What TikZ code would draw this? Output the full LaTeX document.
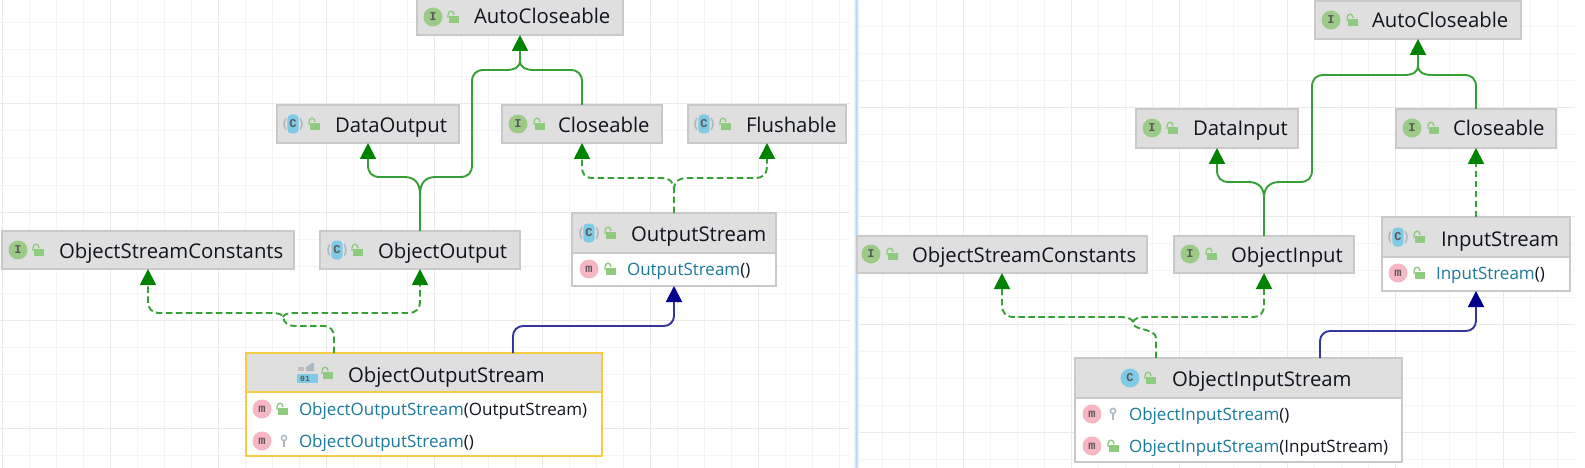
\documentclass[tikz,border=0pt]{standalone}
\usepackage{fontspec}
\setmainfont{Open Sans}
\newfontfamily\monof{Liberation Mono}
\usetikzlibrary{arrows.meta,calc}
\definecolor{gmaj}{HTML}{E9E9E9}
\definecolor{gmin}{HTML}{F4F4F4}
\definecolor{headc}{HTML}{DFDFDF}
\definecolor{edgec}{HTML}{C9C9C9}
\definecolor{selc}{HTML}{F7CB45}
\definecolor{greenl}{HTML}{35A035}
\definecolor{greena}{HTML}{008400}
\definecolor{bluel}{HTML}{3535A0}
\definecolor{bluea}{HTML}{00008B}
\definecolor{teal1}{HTML}{1B7A9A}
\definecolor{ink}{HTML}{10141C}
\definecolor{icoI}{HTML}{9CCB88}
\definecolor{icoC}{HTML}{7FCAE6}
\definecolor{icoM}{HTML}{F8B6C4}
\definecolor{lockc}{HTML}{8FCB7E}
\definecolor{keyc}{HTML}{AEB8C0}
\definecolor{stripc}{HTML}{B9D6F8}
\newcounter{autoid}
\newcommand{\autonm}{n\arabic{autoid}}
\tikzset{
  gline/.style={greenl,line width=1.9pt,-{Triangle[width=16pt,length=16pt,color=greena]}},
  gplain/.style={greenl,line width=1.9pt},
  dline/.style={greenl,line width=1.9pt,dash pattern=on 6.5pt off 3.5pt,-{Triangle[width=16pt,length=16pt,color=greena]}},
  bline/.style={bluel,line width=1.9pt,-{Triangle[width=16pt,length=16pt,color=bluea]}},
  txtn/.style={anchor=base west,inner sep=0pt,outer sep=0pt},
  ttl/.style={txtn,text=ink,font=\fontsize{20.3}{24}\selectfont},
  mem/.style={txtn,text=teal1,font=\fontsize{17}{21}\selectfont},
  badgelet/.style={inner sep=0pt,text=black!65,font=\monof\bfseries\fontsize{12}{12}\selectfont}
}
% name x1 y1 x2 y2 ysep colour
\newcommand{\clsbox}[7]{%
  \pgfmathsetmacro{\bw}{#4-#2}\pgfmathsetmacro{\bh}{#5-#3}%
  \pgfmathsetmacro{\bx}{(#4+#2)/2}\pgfmathsetmacro{\by}{(#5+#3)/2}%
  \fill[white] (#2,#3) rectangle (#4,#5);
  \fill[headc] (#2,#3) rectangle (#4,#6);
  \draw[#7,line width=1.5pt] (#2,#6) -- (#4,#6);
  \node[draw=#7,line width=1.5pt,minimum width=\bw pt,minimum height=\bh pt,inner sep=0pt,outer sep=0pt] (#1) at (\bx,\by) {};
}
\newcommand{\lockic}[2]{%
  \fill[lockc] (#1-4,#2-1) rectangle (#1+6,#2+6);
  \draw[lockc,line width=1.4pt] (#1-5,#2+1) -- (#1-5,#2-2) .. controls (#1-5,#2-7) and (#1+1,#2-7) .. (#1+1,#2-2);
}
\newcommand{\keyic}[2]{%
  \draw[keyc,line width=1.5pt] (#1,#2-3) circle[radius=2.6pt];
  \draw[keyc,line width=2pt] (#1,#2) -- (#1,#2+6);
}
\newcommand{\badge}[4]{%
  \fill[#3] (#1,#2) circle[radius=9.5pt];
  \stepcounter{autoid}\node[badgelet] (\autonm) at (#1,#2) {#4};
}
\newcommand{\badgeA}[2]{%
  \draw[keyc,line width=1.6pt] (#1,#2) circle[radius=9pt];
  \fill[headc] (#1-6.8,#2-10) rectangle (#1+6.8,#2+10);
  \fill[icoC,rounded corners=4pt] (#1-5.6,#2-9.5) rectangle (#1+5.6,#2+9.5);
  \stepcounter{autoid}\node[badgelet] (\autonm) at (#1,#2) {C};
}
\newcommand{\ttxt}[3]{\stepcounter{autoid}\node[ttl] (\autonm) at (#1,#2) {#3};}
\newcommand{\mtxt}[3]{\stepcounter{autoid}\node[mem] (\autonm) at (#1,#2) {#3};}
\begin{document}
\begin{tikzpicture}[x=1pt,y=-1pt]
\useasboundingbox (0,0) rectangle (1585,468);
\fill[white] (0,0) rectangle (1585,468);
% grids
\foreach \k in {0,...,31}{\pgfmathsetmacro{\xx}{2+27*\k}\pgfmathtruncatemacro{\mm}{mod(\k,4)}
  \ifnum\mm=0 \draw[gmaj,line width=1pt] (\xx,0) -- (\xx,468);\else \draw[gmin,line width=1pt] (\xx,0) -- (\xx,468);\fi}
\foreach \k in {1,...,17}{\pgfmathsetmacro{\yy}{-4+27*\k}\pgfmathtruncatemacro{\mm}{mod(\k,4)}
  \ifnum\mm=0 \draw[gmaj,line width=1pt] (0,\yy) -- (850,\yy);\else \draw[gmin,line width=1pt] (0,\yy) -- (850,\yy);\fi}
\foreach \k in {0,...,26}{\pgfmathsetmacro{\xx}{855+27*\k}\pgfmathtruncatemacro{\mm}{mod(\k,4)}
  \ifnum\mm=0 \draw[gmaj,line width=1pt] (\xx,0) -- (\xx,468);\else \draw[gmin,line width=1pt] (\xx,0) -- (\xx,468);\fi}
\foreach \k in {0,...,17}{\pgfmathsetmacro{\yy}{27*\k}\pgfmathtruncatemacro{\mm}{mod(\k,4)}
  \ifnum\mm=0 \draw[gmaj,line width=1pt] (857,\yy) -- (1575,\yy);\else \draw[gmin,line width=1pt] (857,\yy) -- (1575,\yy);\fi}
\fill[white] (850.5,0) rectangle (858,468);
\shade[left color=white,right color=stripc] (853,1) rectangle (856.5,468);
\shade[left color=stripc,right color=white] (856.5,1) rectangle (858.5,468);

% ---------- left boxes
\clsbox{acl}{417}{-2}{623}{35}{35}{edgec}
\clsbox{dout}{277}{105}{459}{143}{143}{edgec}
\clsbox{cll}{502}{105}{662}{143}{143}{edgec}
\clsbox{flu}{688}{105}{846}{143}{143}{edgec}
\clsbox{oscl}{2}{231}{294}{269}{269}{edgec}
\clsbox{oout}{320}{231}{520}{269}{269}{edgec}
\clsbox{ostr}{572}{213}{776}{286}{253}{edgec}
\clsbox{oos}{246}{353}{602}{456}{392}{selc}
% ---------- right boxes
\clsbox{acr}{1315}{1}{1521}{39}{39}{edgec}
\clsbox{din}{1136}{109}{1298}{148}{148}{edgec}
\clsbox{clr}{1396}{109}{1556}{148}{148}{edgec}
\clsbox{oscr}{857}{236}{1147}{273}{273}{edgec}
\clsbox{oin}{1174}{236}{1354}{273}{273}{edgec}
\clsbox{istr}{1382}{217}{1570}{291}{257}{edgec}
\clsbox{ois}{1075}{358}{1402}{462}{398}{edgec}

% ---------- source points on the two big boxes
\coordinate (sa) at (334,340);
\coordinate (sb) at (513,340);
\coordinate (sc) at (1156,340);
\coordinate (sd) at (1320,340);

% ---------- left connectors
\draw[gline] (oout.north) -- (420,195) .. controls (420,182) and (414,177) .. (404,177) -- (380,177) .. controls (372,177) and (368,173) .. (368,165) -- (dout.south);
\draw[gplain] (420,195) .. controls (420,182) and (426,177) .. (436,177) -- (460,177) .. controls (468,177) and (472,173) .. (472,165) -- (472,82) .. controls (472,74) and (476,70) .. (484,70) -- (506,70) .. controls (514,70) and (520,68) .. (520,60);
\draw[gline] (cll.north) -- (582,82) .. controls (582,74) and (578,70) .. (570,70) -- (534,70) .. controls (526,70) and (520,68) .. (520,60) -- (acl.south);
\draw[dline] (ostr.north) -- (674,190) .. controls (674,182) and (670,178) .. (660,178) -- (593,178) .. controls (585,178) and (582,174) .. (582,167) -- (cll.south);
\draw[dline] (674,190) .. controls (674,182) and (678,178) .. (688,178) -- (755,178) .. controls (763,178) and (767,174) .. (767,167) -- (flu.south);
\draw[dline] (oos.north -| sa) -- (334,338) .. controls (334,330) and (331,326) .. (322,326) -- (295,326) .. controls (288,326) and (284,323) .. (283,317) .. controls (282,314) and (278,313) .. (270,313) -- (160,313) .. controls (152,313) and (148,309) .. (148,301) -- (oscl.south);
\draw[dline] (283,317) .. controls (284,314) and (288,313) .. (296,313) -- (408,313) .. controls (416,313) and (420,309) .. (420,301) -- (oout.south);
\draw[bline,rounded corners=10pt] (oos.north -| sb) |- (674,326) -- (ostr.south);

% ---------- right connectors
\draw[gline] (oin.north) -- (1264,198) .. controls (1264,187) and (1258,182) .. (1248,182) -- (1229,182) .. controls (1221,182) and (1217,178) .. (1217,170) -- (din.south);
\draw[gplain] (1264,198) .. controls (1264,187) and (1270,182) .. (1280,182) -- (1300,182) .. controls (1308,182) and (1312,178) .. (1312,170) -- (1312,87) .. controls (1312,79) and (1316,75) .. (1324,75) -- (1404,75) .. controls (1412,75) and (1418,73) .. (1418,65);
\draw[gline] (clr.north) -- (1476,87) .. controls (1476,79) and (1472,75) .. (1464,75) -- (1432,75) .. controls (1424,75) and (1418,73) .. (1418,65) -- (acr.south);
\draw[dline] (istr.north) -- (clr.south);
\draw[dline] (ois.north -| sc) -- (1156,338) .. controls (1156,333) and (1150,331) .. (1142,329) .. controls (1135,327) and (1133,326) .. (1133,322) .. controls (1132,319) and (1128,317) .. (1120,317) -- (1014,317) .. controls (1006,317) and (1002,313) .. (1002,305) -- (oscr.south);
\draw[dline] (1133,322) .. controls (1134,319) and (1138,317) .. (1146,317) -- (1252,317) .. controls (1260,317) and (1264,313) .. (1264,305) -- (oin.south);
\draw[bline,rounded corners=10pt] (ois.north -| sd) |- (1476,331) -- (istr.south);

% ---------- left icons and texts
\badge{433}{17}{icoI}{I}\lockic{453}{17}\ttxt{474}{24}{AutoCloseable}
\badgeA{293}{124}\lockic{314}{124}\ttxt{335}{132}{DataOutput}
\badge{518}{124}{icoI}{I}\lockic{539}{124}\ttxt{558}{132}{Closeable}
\badgeA{704}{124}\lockic{725}{124}\ttxt{746}{132}{Flushable}
\badge{18}{250}{icoI}{I}\lockic{38}{250}\ttxt{59}{258}{ObjectStreamConstants}
\badgeA{337}{250}\lockic{357}{250}\ttxt{378}{258}{ObjectOutput}
\badgeA{589}{233}\lockic{610}{233}\ttxt{631}{241}{OutputStream}
\badge{589}{269}{icoM}{m}\lockic{610}{269}\mtxt{627}{275}{OutputStream\textcolor{ink}{()}}
% 01 icon
\fill[keyc] (306,371) -- (306,367) -- (312,363) -- (314,363) -- (314,371) -- cycle;
\fill[black!25] (298,371) -- (298,367) -- (304,367) -- (304,371) -- cycle;
\fill[icoC] (297,374) rectangle (318,383);
\stepcounter{autoid}\node[inner sep=0pt,text=black!65,font=\monof\bfseries\fontsize{8}{8}\selectfont] (\autonm) at (305,378.5) {01};
\lockic{327}{373}\ttxt{348}{382}{ObjectOutputStream}
\badge{262}{409}{icoM}{m}\lockic{282}{409}\mtxt{299}{415.5}{ObjectOutputStream\textcolor{ink}{(OutputStream)}}
\badge{262}{441}{icoM}{m}\keyic{284}{441}\mtxt{299}{447.5}{ObjectOutputStream\textcolor{ink}{()}}

% ---------- right icons and texts
\badge{1331}{20}{icoI}{I}\lockic{1352}{20}\ttxt{1372}{28}{AutoCloseable}
\badge{1152}{128}{icoI}{I}\lockic{1172}{128}\ttxt{1193}{136}{DataInput}
\badge{1412}{128}{icoI}{I}\lockic{1433}{128}\ttxt{1453}{136}{Closeable}
\badge{871}{254}{icoI}{I}\lockic{892}{254}\ttxt{912}{262}{ObjectStreamConstants}
\badge{1190}{254}{icoI}{I}\lockic{1211}{254}\ttxt{1231}{262}{ObjectInput}
\badgeA{1398}{237}\lockic{1419}{237}\ttxt{1441}{246}{InputStream}
\badge{1398}{273}{icoM}{m}\lockic{1419}{273}\mtxt{1436}{279.5}{InputStream\textcolor{ink}{()}}
\badge{1130}{378}{icoC}{C}\lockic{1150}{378}\ttxt{1172}{386}{ObjectInputStream}
\badge{1092}{414}{icoM}{m}\keyic{1113}{414}\mtxt{1129}{420.5}{ObjectInputStream\textcolor{ink}{()}}
\badge{1092}{446}{icoM}{m}\lockic{1113}{446}\mtxt{1129}{452.5}{ObjectInputStream\textcolor{ink}{(InputStream)}}
\end{tikzpicture}
\end{document}
